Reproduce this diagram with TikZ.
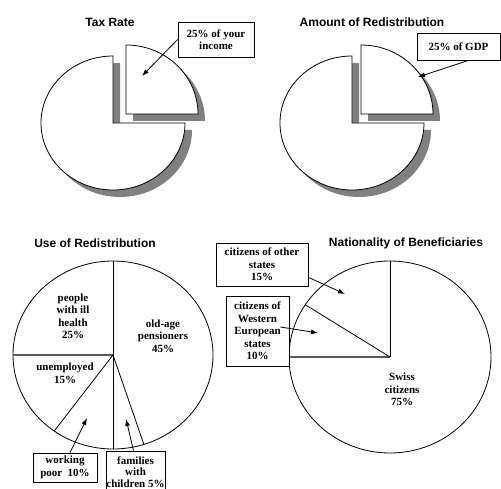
\documentclass[tikz,border=0pt]{standalone}
\usepackage{fontspec}
\setmainfont{Liberation Serif}
\newfontfamily\titlefont{Liberation Sans}
\usetikzlibrary{arrows.meta}
\begin{document}
\begin{tikzpicture}[x=1pt,y=-1pt,
  title/.style={font=\titlefont\bfseries\fontsize{12}{14}\selectfont, inner sep=0},
  lbl/.style={font=\bfseries\fontsize{11}{12.5}\selectfont, align=center, inner sep=0},
  box/.style={lbl, draw, fill=white, line width=0.8pt},
  pieline/.style={line width=0.8pt},
  hline/.style={line width=1.2pt, draw=black!65},
  shadow/.style={fill=black!50, draw=none},
  arr/.style={-{Latex[length=7pt,width=5pt]}, line width=0.8pt},
]
\useasboundingbox (0,0) rectangle (501,489);

% ---------- Tax Rate ----------
\node[title] (t1) at (110,22) {Tax Rate};
\fill[shadow] (120,130) -- (120,63) arc[start angle=-90,end angle=-360,x radius=72,y radius=67] -- cycle;
\fill[shadow] (133,121) -- (133,52) arc[start angle=-90,end angle=0,x radius=72,y radius=69] -- cycle;
\filldraw[fill=white,pieline] (113,123) -- (113,56) arc[start angle=-90,end angle=-360,x radius=72,y radius=67] -- cycle;
\filldraw[fill=white,pieline] (126,114) -- (126,45) arc[start angle=-90,end angle=0,x radius=72,y radius=69] -- cycle;
\node[box, minimum width=76pt, minimum height=35pt] (b1) at (216,39.5) {25\% of your\\income};
\coordinate (p1) at (142,76);
\draw[arr] (b1.west) -- (p1);

% ---------- Amount of Redistribution ----------
\node[title] (t2) at (372,22) {Amount of Redistribution};
\fill[shadow] (359,130) -- (359,63) arc[start angle=-90,end angle=-360,x radius=72,y radius=67] -- cycle;
\fill[shadow] (368,121) -- (368,52) arc[start angle=-90,end angle=0,x radius=72,y radius=69] -- cycle;
\filldraw[fill=white,pieline] (352,123) -- (352,56) arc[start angle=-90,end angle=-360,x radius=72,y radius=67] -- cycle;
\filldraw[fill=white,pieline] (361,114) -- (361,45) arc[start angle=-90,end angle=0,x radius=72,y radius=69] -- cycle;
\node[box, minimum width=83pt, minimum height=27pt] (b2) at (458.5,46.5) {25\% of GDP};
\coordinate (p2) at (418,77);
\draw[arr] ([xshift=10pt]b2.south) -- (p2);

% ---------- Use of Redistribution ----------
\node[title] (t3) at (95,243) {Use of Redistribution};
\coordinate (c3) at (113,355);
\draw[pieline] (c3) ellipse[x radius=100,y radius=94];
\draw[pieline] (113,261) -- (113,449);
\draw[hline] (13,355) -- (c3);
\draw[pieline] (c3) -- ++(126:100 and 94);
\draw[pieline] (c3) -- ++(72:100 and 94);
\node[lbl] (l1) at (73,316.5) {people\\with ill\\health\\25\%};
\node[lbl] (l2) at (163,336) {old-age\\pensioners\\45\%};
\node[lbl] (l3) at (65,373.5) {unemployed\\15\%};
\node[box, minimum width=64pt, minimum height=29pt] (b5) at (65,467.5) {working\\poor\ \ 10\%};
\node[box, minimum width=59pt, minimum height=42pt, font=\bfseries\fontsize{11}{11.5}\selectfont] (b6) at (135.5,472) {families\\with\\children 5\%};
\coordinate (p5) at (87,418);
\coordinate (p6) at (126,419);
\draw[arr] ([xshift=5pt]b5.north) -- (p5);
\draw[arr] ([xshift=-2pt]b6.north) -- (p6);

% ---------- Nationality of Beneficiaries ----------
\node[title] (t4) at (406,243) {Nationality of Beneficiaries};
\coordinate (c4) at (390,357);
\draw[pieline] (c4) ellipse[x radius=101,y radius=96];
\draw[pieline] (390,261) -- (c4);
\draw[hline] (289,357) -- (c4);
\draw[pieline] (c4) -- ++(213:101 and 96);
\node[lbl] (l4) at (402,389.5) {Swiss\\citizens\\75\%};
\node[box, minimum width=92pt, minimum height=43pt] (b3) at (262,264.5) {citizens of other\\states\\15\%};
\node[box, minimum width=63pt, minimum height=70pt] (b4) at (257.5,331) {citizens of\\Western\\European\\states\\10\%};
\coordinate (p3) at (345,294);
\coordinate (p4) at (318,333);
\draw[arr] ([yshift=9pt]b3.south east) -- (p3);
\draw[arr] ([xshift=-9pt,yshift=4pt]b4.east) -- (p4);
\end{tikzpicture}
\end{document}
